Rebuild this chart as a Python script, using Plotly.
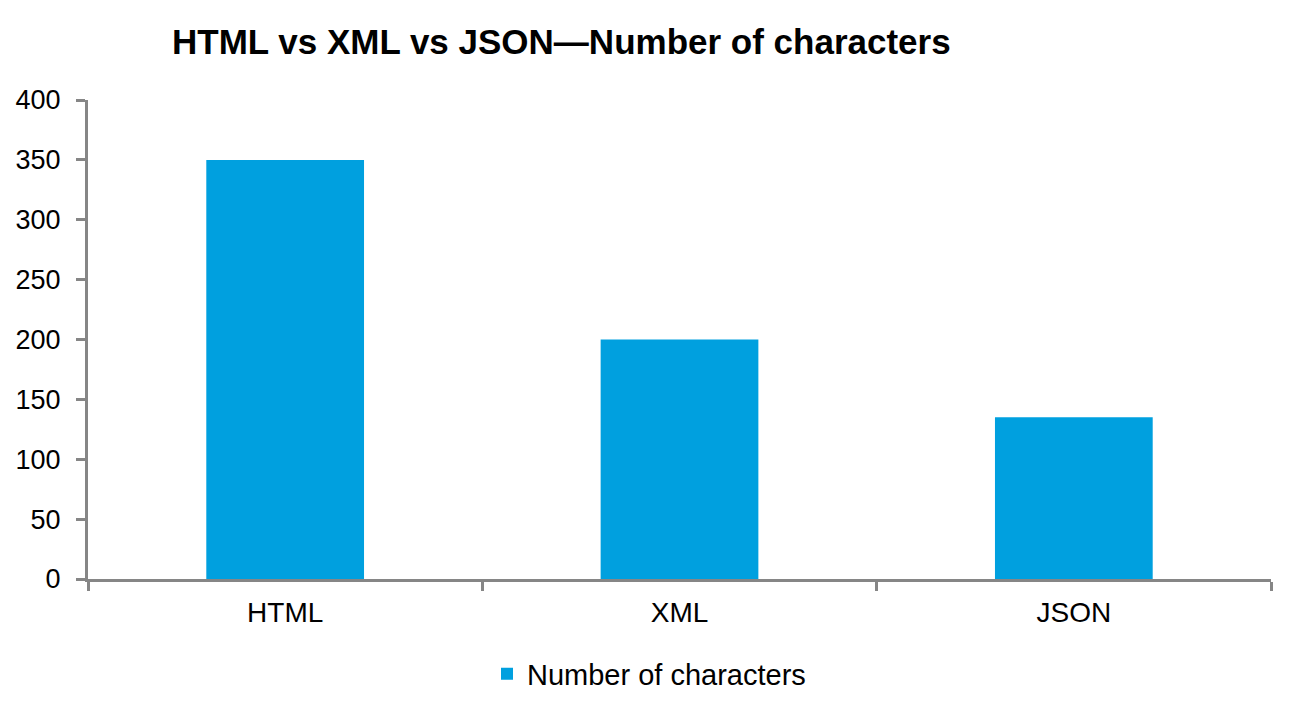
import plotly.graph_objects as go

categories = ["HTML", "XML", "JSON"]
values = [350, 200, 135]
series_name = "Number of characters"
y_ticks = [0, 50, 100, 150, 200, 250, 300, 350, 400]

W, H = 1290, 702  # page body has an 8px margin
OFF = 8

fig = go.Figure()
fig.add_trace(go.Bar(
    x=categories, y=values, name=series_name,
    marker=dict(color="#00A0DF", line=dict(width=0)),
    showlegend=True,
))

axis_color = "#868686"
fig.update_layout(
    width=W, height=H,
    margin=dict(l=88 - OFF, r=W + OFF - 1271, t=100 - OFF, b=H + OFF - 579),
    paper_bgcolor="white", plot_bgcolor="white",
    font=dict(family="Liberation Sans, Arial, sans-serif", color="black", size=27),
    title=dict(text="<b>HTML vs XML vs JSON—Number of characters</b>",
               font=dict(size=35, color="black"),
               x=(172 - OFF) / W, xanchor="left", xref="container",
               y=1 - (42 - OFF) / H, yanchor="middle", yref="container"),
    bargap=0.6,
    showlegend=True,
    legend=dict(orientation="h", x=(649 - OFF) / W, xanchor="center", xref="container",
                y=1 - (674 - OFF) / H, yanchor="middle", yref="container",
                font=dict(size=29), itemwidth=30),
    xaxis=dict(showline=True, linecolor=axis_color, linewidth=3,
               ticks="outside", tickson="boundaries", ticklen=9,
               tickcolor=axis_color, tickwidth=3, showgrid=False,
               tickfont=dict(size=28), ticklabelstandoff=6, automargin=False),
    yaxis=dict(range=[0, 400], tickvals=y_ticks, showline=True,
               linecolor=axis_color, linewidth=3, ticks="outside",
               ticklen=9, tickcolor=axis_color, tickwidth=3,
               showgrid=False, zeroline=False, tickfont=dict(size=27),
               ticklabelstandoff=10, automargin=False),
)

fig.write_html("out.html")
